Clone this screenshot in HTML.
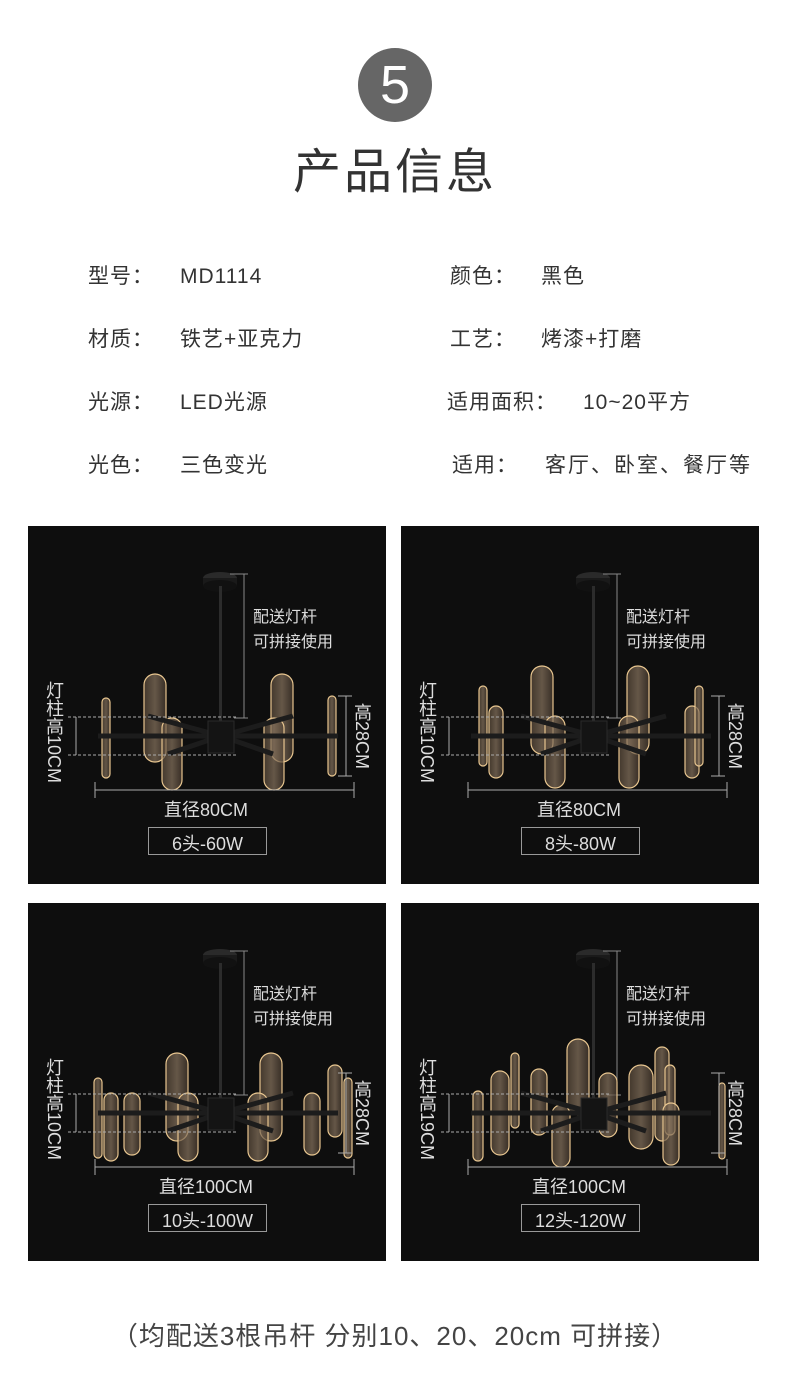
<!DOCTYPE html>
<html><head><meta charset="utf-8">
<style>
body{margin:0;width:790px;height:1377px;background:#fff;position:relative;overflow:hidden;font-family:"Liberation Sans","Noto Sans CJK SC",sans-serif;}
.a{position:absolute;white-space:nowrap}
.circ{left:358px;top:48px;width:74px;height:74px;border-radius:50%;background:#666;color:#fff;font-size:54px;line-height:74px;text-align:center}
.title{left:0;width:790px;top:132px;text-align:center;font-size:48px;color:#333;letter-spacing:3px}
.sp{font-size:21px;color:#333;line-height:26px;letter-spacing:1px}
.panel{position:absolute;width:358px;height:358px;background:#0e0e0e;overflow:hidden}
.panel .t{position:absolute;color:#ddd;white-space:nowrap}
.vt{writing-mode:vertical-rl;font-size:18px;line-height:18px}
.foot{left:0;width:790px;top:1316px;text-align:center;font-size:26px;color:#444;letter-spacing:1px}
</style></head><body>
<div class="a circ">5</div>
<div class="a title">产品信息</div>
<div class="a sp" style="left:88px;top:264px">型号：</div><div class="a sp" style="left:180px;top:264px">MD1114</div>
<div class="a sp" style="left:450px;top:264px">颜色：</div><div class="a sp" style="left:541px;top:264px">黑色</div>
<div class="a sp" style="left:88px;top:327px">材质：</div><div class="a sp" style="left:180px;top:327px">铁艺+亚克力</div>
<div class="a sp" style="left:450px;top:327px">工艺：</div><div class="a sp" style="left:541px;top:327px">烤漆+打磨</div>
<div class="a sp" style="left:88px;top:390px">光源：</div><div class="a sp" style="left:180px;top:390px">LED光源</div>
<div class="a sp" style="left:447px;top:390px">适用面积：</div><div class="a sp" style="left:583px;top:390px">10~20平方</div>
<div class="a sp" style="left:88px;top:453px">光色：</div><div class="a sp" style="left:180px;top:453px">三色变光</div>
<div class="a sp" style="left:452px;top:453px">适用：</div><div class="a sp" style="left:545px;top:453px;letter-spacing:2px">客厅、卧室、餐厅等</div>

<div id="panels"></div>
<div class="a foot">（均配送3根吊杆 分别10、20、20cm 可拼接）</div>

<script>
const P=[
 {x:28,y:526,h:"灯柱高10CM",d:"直径80CM",b:"6头-60W",pills:[[74,172,8,80],[116,148,22,88],[134,192,20,72],[243,148,22,88],[236,192,20,72],[300,170,8,80]]},
 {x:401,y:526,h:"灯柱高10CM",d:"直径80CM",b:"8头-80W",pills:[[78,160,8,80],[88,180,14,72],[130,140,22,88],[144,190,20,72],[226,140,22,88],[218,190,20,72],[284,180,14,72],[294,160,8,80]]},
 {x:28,y:903,h:"灯柱高10CM",d:"直径100CM",b:"10头-100W",pills:[[66,175,8,80],[76,190,14,68],[96,190,16,62],[138,150,22,88],[150,190,20,68],[232,150,22,88],[220,190,20,68],[276,190,16,62],[300,162,14,72],[316,175,8,80]]},
 {x:401,y:903,h:"灯柱高19CM",d:"直径100CM",b:"12头-120W",pills:[[72,188,10,70],[90,168,18,84],[110,150,8,75],[130,166,16,66],[151,202,18,62],[166,136,22,76],[198,170,18,64],[228,162,24,84],[254,144,14,94],[264,162,10,70],[262,200,16,62],[318,180,6,76]]}
];
let h="";
for(const p of P){
 let s=`<div class="panel" style="left:${p.x}px;top:${p.y}px"><svg width="358" height="358" style="position:absolute;left:0;top:0">
 <defs><linearGradient id="g" x1="0" x2="1"><stop offset="0" stop-color="#5a4a3a"/><stop offset="0.5" stop-color="#8a7660"/><stop offset="1" stop-color="#4a3c30"/></linearGradient></defs>
 <ellipse cx="192" cy="52" rx="17" ry="6" fill="#2a2a2a"/><rect x="175" y="52" width="34" height="8" fill="#1a1a1a"/><ellipse cx="192" cy="60" rx="17" ry="6" fill="#111"/>
 <rect x="191" y="60" width="3" height="140" fill="#2c2c2c"/>
 <line x1="202" y1="48" x2="220" y2="48" stroke="#888"/><line x1="216" y1="48" x2="216" y2="192" stroke="#888"/><line x1="206" y1="192" x2="220" y2="192" stroke="#888"/>`;
 for(const q of p.pills){const r=q[2]/2;
  s+=`<rect x="${q[0]}" y="${q[1]}" width="${q[2]}" height="${q[3]}" rx="${r}" fill="url(#g)" fill-opacity="0.7" stroke="#e8c690" stroke-width="1.2"/>`;}
 s+=`<g stroke="#1c1c1c" stroke-width="5"><line x1="193" y1="210" x2="70" y2="210"/><line x1="193" y1="210" x2="310" y2="210"/><line x1="193" y1="210" x2="120" y2="190"/><line x1="193" y1="210" x2="265" y2="190"/><line x1="193" y1="210" x2="140" y2="228"/><line x1="193" y1="210" x2="245" y2="228"/></g>
 <rect x="180" y="195" width="26" height="32" fill="#141414" stroke="#2a2a2a"/>
 <line x1="40" y1="191" x2="210" y2="191" stroke="#aaa" stroke-dasharray="3,2"/><line x1="40" y1="229" x2="210" y2="229" stroke="#aaa" stroke-dasharray="3,2"/>
 <line x1="48" y1="191" x2="48" y2="229" stroke="#aaa"/>
 <line x1="310" y1="170" x2="324" y2="170" stroke="#aaa"/><line x1="318" y1="170" x2="318" y2="250" stroke="#aaa"/><line x1="310" y1="250" x2="324" y2="250" stroke="#aaa"/>
 <line x1="67" y1="264" x2="326" y2="264" stroke="#aaa"/><line x1="67" y1="256" x2="67" y2="272" stroke="#aaa"/><line x1="326" y1="256" x2="326" y2="272" stroke="#aaa"/>
 <rect x="120.5" y="301.5" width="118" height="27" fill="none" stroke="#999"/>
 </svg>
 <div class="t" style="left:225px;top:77px;font-size:16px">配送灯杆</div>
 <div class="t" style="left:225px;top:102px;font-size:16px">可拼接使用</div>
 <div class="t vt" style="left:17px;top:155px">${p.h}</div>
 <div class="t vt" style="left:325px;top:177px">高28CM</div>
 <div class="t" style="left:78px;width:200px;text-align:center;top:270px;font-size:18px">${p.d}</div>
 <div class="t" style="left:120px;width:119px;text-align:center;top:304px;font-size:18px">${p.b}</div>
 </div>`;
 h+=s;
}
document.getElementById("panels").innerHTML=h;
</script>
</body></html>
